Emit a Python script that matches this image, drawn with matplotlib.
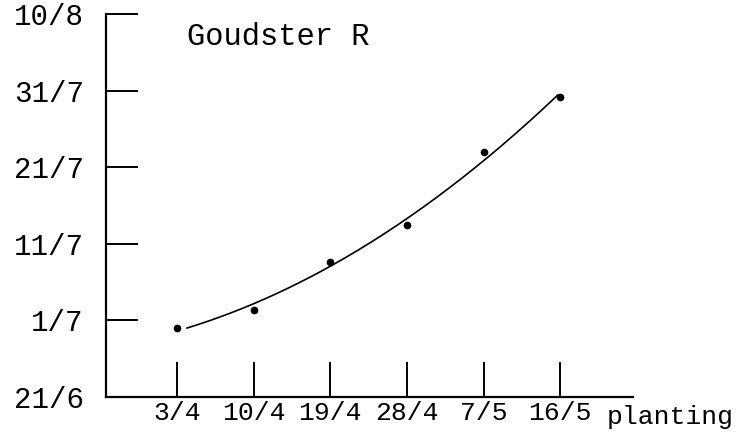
import numpy as np
import matplotlib
matplotlib.use('Agg')
import matplotlib.pyplot as plt

# planting dates (equally spaced on the chart) and ripening date as days after 21/6
planting = ['3/4', '10/4', '19/4', '28/4', '7/5', '16/5']
ripe_days = [9.0, 11.4, 17.6, 22.5, 32.0, 39.2]
y_days = [0, 10, 20, 30, 40, 50]
y_labels = ['21/6', '1/7', '11/7', '21/7', '31/7', '10/8']
title = 'Goudster R'

plt.rcParams['font.family'] = ['Liberation Mono', 'DejaVu Sans Mono']

fig = plt.figure(figsize=(7.37, 4.37), dpi=100)
ax = fig.add_axes([0.1438, 0.0915, 0.715, 0.8765])

x = np.arange(len(planting))
ax.plot(x, ripe_days, 'o', color='black', markersize=4.5)

# smooth trend through the points (quadratic fit)
coef = np.polyfit(x, ripe_days, 2)
xs = np.linspace(0.13, 4.97, 200)
ax.plot(xs, np.polyval(coef, xs), color='black', linewidth=1.2)

ax.set_xlim(-0.927, 5.95)
ax.set_ylim(0, 50)
ax.set_xticks(x)
ax.set_xticklabels(planting)
ax.set_yticks(y_days)
ax.set_yticklabels(y_labels)

for s in ['top', 'right']:
    ax.spines[s].set_visible(False)
for s in ['left', 'bottom']:
    ax.spines[s].set_linewidth(1.6)

ax.tick_params(axis='y', direction='in', length=23, width=1.4, pad=16, labelsize=21)
ax.tick_params(axis='x', direction='in', length=25, width=1.4, pad=3, labelsize=19)

ax.text(0.153, 0.94, title, transform=ax.transAxes, fontsize=22, va='center', ha='left')
fig.text(0.823, 0.045, 'planting', fontsize=19, va='center', ha='left')

fig.savefig('out.png', dpi=100)
